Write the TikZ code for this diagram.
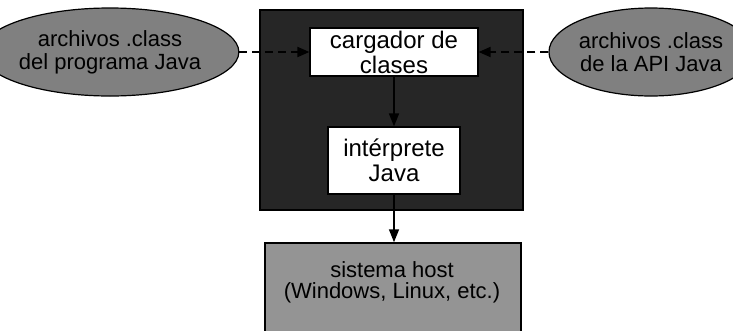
\documentclass[tikz,border=0pt]{standalone}
\usepackage{fontspec}
\setmainfont{Liberation Sans}
\usetikzlibrary{shapes.geometric,arrows.meta}
\tikzset{
  ellipsenode/.style={ellipse, draw=black, line width=1.2pt, fill=black!50, inner sep=0pt,
    align=center, font=\fontsize{22}{23}\selectfont},
  whitebox/.style={rectangle, draw=black, line width=1.2pt, fill=white, inner sep=0pt,
    align=center, font=\fontsize{24}{25}\selectfont},
  darkbox/.style={rectangle, draw=black, line width=1.5pt, fill=black!85, inner sep=0pt},
  hostbox/.style={rectangle, draw=black, line width=1.5pt, fill=black!42, inner sep=0pt},
  hostlabel/.style={inner sep=0pt, align=center, font=\fontsize{22}{21.5}\selectfont},
  dashconn/.style={line width=1.8pt, dash pattern=on 8pt off 5pt, -{Triangle[length=12pt,width=10pt]}},
  solidconn/.style={line width=1.5pt, -{Triangle[length=13pt,width=10pt]}}
}
\begin{document}
\begin{tikzpicture}[x=1pt,y=-1pt]
\useasboundingbox (0,0) rectangle (733,330);
\fill[white] (0,0) rectangle (733,330);
\node[darkbox, minimum width=263pt, minimum height=200pt] (jvm) at (391.5,110) {};
\node[whitebox, minimum width=168pt, minimum height=48pt] (loader) at (394,52) {cargador de\\clases};
\node[whitebox, minimum width=132pt, minimum height=67pt] (interp) at (394,160.5) {intérprete\\Java};
\node[hostbox, minimum width=256pt, minimum height=94pt] (host) at (393,290) {};
\node[hostlabel] (hosttext) at (392,282.5) {sistema host\\(Windows, Linux, etc.)};
\node[ellipsenode, minimum width=200pt, minimum height=88pt] (progfiles) at (110,52) {archivos .class\\del programa Java};
\node[ellipsenode, minimum width=160pt, minimum height=88pt] (apifiles) at (651,52) {archivos .class\\de la API Java};
\draw[dashconn] (progfiles.east) -- (loader.west);
\draw[dashconn] (apifiles.west) -- (loader.east);
\draw[solidconn] (loader.south) -- (interp.north);
\draw[solidconn] (interp.south) -- (host.north -| interp.south);
\end{tikzpicture}
\end{document}
